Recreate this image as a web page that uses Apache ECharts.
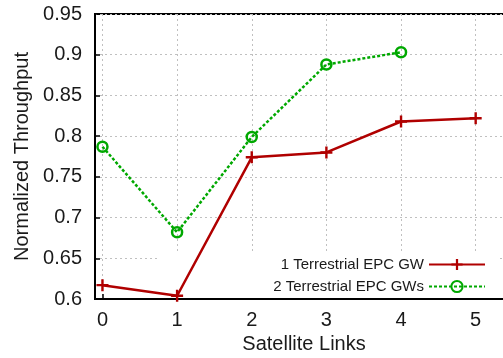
<!DOCTYPE html>
<html>
<head>
<meta charset="utf-8">
<title>Normalized Throughput</title>
<script src="https://cdn.jsdelivr.net/npm/echarts@6/dist/echarts.min.js"></script>
<style>
  html, body { margin: 0; padding: 0; background: #fff; }
  #chart { width: 503px; height: 358px; }
</style>
</head>
<body>
<div id="chart"></div>
<script>
// satellite links on the x axis
var links = [0, 1, 2, 3, 4, 5];
var seriesNames = ["1 Terrestrial EPC GW", "2 Terrestrial EPC GWs"];
var oneGw = [0.617, 0.604, 0.774, 0.780, 0.818, 0.822];
var twoGw = [0.787, 0.682, 0.799, 0.888, 0.903];

var font = "Liberation Sans, Arial, Helvetica, sans-serif";
var textColor = "#1a1a1a";
var red = "#b00000";
var green = "#00a800";

// gnuplot style "+" point
var plus = "path://M4,0h2v4h4v2h-4v4h-2v-4h-4v-2h4z";

function pairs(ys) {
  return ys.map(function(y, i) {
    return [links[i], y];
  });
}

var chart = echarts.init(document.getElementById("chart"), null, { renderer: "canvas" });

var option = {
  animation: false,
  textStyle: { fontFamily: font },
  grid: {
    left: 95,
    top: 14,
    right: -10,
    bottom: 59,
    show: true,
    borderColor: "#000",
    borderWidth: 2,
    backgroundColor: "transparent",
    outerBoundsMode: "none"
  },
  legend: {
    orient: "vertical",
    align: "right",
    right: 3,
    top: 253,
    padding: [4, 14, 4, 114],
    backgroundColor: "#fff",
    z: 1,
    itemWidth: 56,
    itemHeight: 14,
    itemGap: 7,
    textStyle: { fontSize: 15, color: textColor, fontFamily: font },
    data: seriesNames
  },
  xAxis: {
    type: "value",
    min: -0.1,
    max: 5.5,
    name: "Satellite Links",
    nameLocation: "middle",
    nameGap: 33,
    nameTextStyle: { fontSize: 20, color: textColor, fontFamily: font },
    axisLine: { show: true, onZero: false, lineStyle: { color: "#000", width: 2 } },
    axisTick: { show: true, inside: true, length: 5, lineStyle: { color: "#000", width: 1.5 } },
    axisLabel: {
      fontSize: 20,
      color: textColor,
      margin: 11,
      showMinLabel: true,
      showMaxLabel: true,
      formatter: function(v) {
        return Math.abs(v - Math.round(v)) < 1e-6 ? String(Math.round(v)) : "";
      }
    },
    splitLine: { show: true, lineStyle: { color: "#c0c0c0", type: [2, 3], width: 1 } }
  },
  yAxis: {
    type: "value",
    min: 0.6,
    max: 0.95,
    interval: 0.05,
    name: "Normalized Throughput",
    nameLocation: "middle",
    nameGap: 62,
    nameTextStyle: { fontSize: 20, color: textColor, fontFamily: font },
    axisLine: { show: true, onZero: false, lineStyle: { color: "#000", width: 2 } },
    axisTick: { show: true, inside: true, length: 5, lineStyle: { color: "#000", width: 1.5 } },
    axisLabel: { fontSize: 20, color: textColor, margin: 13 },
    splitLine: { show: true, lineStyle: { color: "#c0c0c0", type: [2, 3], width: 1 } }
  },
  series: [
    {
      name: seriesNames[0],
      type: "line",
      data: pairs(oneGw),
      symbol: plus,
      symbolSize: 12,
      itemStyle: { color: red },
      lineStyle: { color: red, width: 2.5 },
      z: 3
    },
    {
      name: seriesNames[1],
      type: "line",
      data: pairs(twoGw),
      symbol: "circle",
      symbolSize: 10,
      itemStyle: { color: "rgba(0,0,0,0)", borderColor: green, borderWidth: 2.5 },
      lineStyle: { color: green, width: 2.5, type: [3, 2] },
      z: 3
    }
  ]
};

chart.setOption(option);
</script>
</body>
</html>
